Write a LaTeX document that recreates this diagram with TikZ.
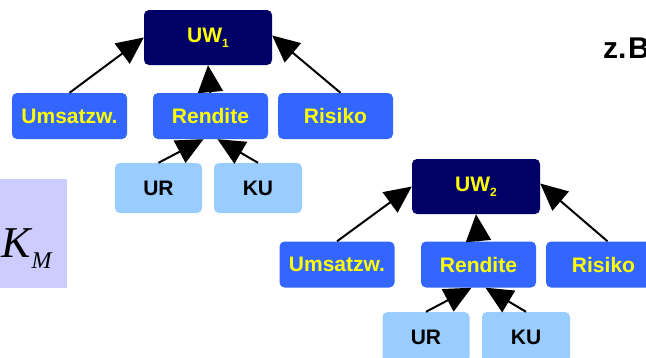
\documentclass[tikz,border=0pt]{standalone}
\usepackage{fontspec}
\setmainfont{Liberation Sans}
\newfontfamily\serifit{Liberation Serif}
\usetikzlibrary{arrows.meta}
\definecolor{boxblue}{HTML}{3366FF}
\definecolor{navy}{HTML}{000066}
\definecolor{light}{HTML}{99CCFF}
\definecolor{txtyellow}{HTML}{FFFF00}
\definecolor{lila}{HTML}{CCCCFF}
\tikzset{
  base/.style={rounded corners=5pt, inner sep=0pt, font=\fontsize{21}{21}\selectfont\bfseries},
  topbox/.style={base, fill=navy, text=txtyellow, minimum width=128pt, minimum height=55pt},
  midbox/.style={base, fill=boxblue, text=txtyellow, minimum width=115pt, minimum height=46pt},
  lowbox/.style={base, fill=light, text=black, minimum width=87pt, minimum height=50pt},
  conn/.style={draw=black, line width=2pt, -{Triangle[length=27pt,width=25pt]}}
}
\newcommand{\sub}[1]{\raisebox{-5pt}{\fontsize{12}{12}\selectfont #1}}
\begin{document}
\begin{tikzpicture}[x=1pt,y=-1pt]
\clip (0,0) rectangle (646,357);
\fill[white] (0,0) rectangle (646,357);
% left purple box
\fill[lila] (0,179) rectangle (67,288);
\node[anchor=base west, inner sep=0pt] (km) at (1,257)
  {\serifit\itshape\fontsize{44}{44}\selectfont K\kern1pt\raisebox{-11pt}{\fontsize{24}{24}\selectfont M}};
% z.B
\node[anchor=base west, inner sep=0pt, font=\fontsize{30}{30}\selectfont\bfseries] (zb) at (603,58) {z.\kern1.5pt B};
% tree 1
\node[topbox] (uw1) at (208,37.5) {UW\sub{1}};
\node[midbox] (u1) at (69.5,116) {Umsatzw.};
\node[midbox] (r1) at (210.5,116) {Rendite};
\node[midbox] (ri1) at (335.5,116) {Risiko};
\node[lowbox] (ur1) at (158.5,188) {UR};
\node[lowbox, minimum width=88pt] (ku1) at (258,188) {KU};
\draw[conn] (u1.north) -- (uw1.west);
\draw[conn] (r1.north) -- (uw1.south);
\draw[conn] ([xshift=5pt]ri1.north) -- ([yshift=2pt]uw1.east);
\draw[conn] (ur1.north) -- ([xshift=-7pt]r1.south);
\draw[conn] (ku1.north) -- ([xshift=7pt]r1.south);
% tree 2
\node[topbox] (uw2) at (476,186.5) {UW\sub{2}};
\node[midbox] (u2) at (337,264.5) {Umsatzw.};
\node[midbox] (r2) at (478.5,264.5) {Rendite};
\node[midbox] (ri2) at (603.5,264.5) {Risiko};
\node[lowbox] (ur2) at (426,337) {UR};
\node[lowbox, minimum width=88pt] (ku2) at (526,337) {KU};
\draw[conn] (u2.north) -- (uw2.west);
\draw[conn] (r2.north) -- (uw2.south);
\draw[conn] ([xshift=4pt]ri2.north) -- ([yshift=3pt]uw2.east);
\draw[conn] (ur2.north) -- ([xshift=-7pt]r2.south);
\draw[conn] (ku2.north) -- ([xshift=7pt]r2.south);
\end{tikzpicture}
\end{document}
